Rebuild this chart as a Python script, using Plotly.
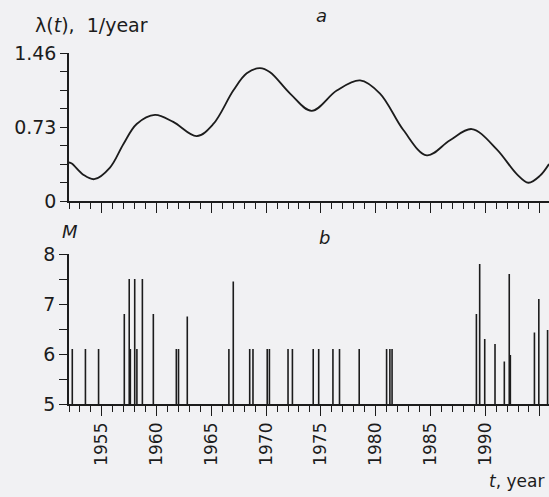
import plotly.graph_objects as go

# ---- data ----
# panel a: intensity lambda(t), 1/year
lam_years = [1952.0, 1952.25, 1953.3, 1954.3, 1955.74, 1956.96, 1958.18, 1959.85, 1961.52,
             1963.66, 1965.18, 1967.0, 1968.23, 1969.44, 1970.36, 1972.19, 1974.16,
             1976.45, 1978.58, 1980.4, 1982.53, 1984.67, 1986.79, 1988.78, 1991.06,
             1992.89, 1993.95, 1995.01, 1995.83]
lam_values = [0.38, 0.37, 0.26, 0.215, 0.33, 0.56, 0.76, 0.85, 0.78,
              0.64, 0.76, 1.09, 1.26, 1.31, 1.27, 1.06, 0.89,
              1.09, 1.19, 1.06, 0.70, 0.45, 0.60, 0.71, 0.51,
              0.265, 0.18, 0.25, 0.365]

# panel b: earthquake magnitudes M
eq_years = [1952.3, 1953.5, 1954.7, 1957.05, 1957.5, 1957.6, 1958.0, 1958.2, 1958.7,
            1959.7, 1961.8, 1962.0, 1962.8, 1966.6, 1967.0, 1968.5, 1968.8, 1970.1,
            1970.3, 1972.0, 1972.4, 1974.3, 1974.8, 1976.1, 1976.7, 1978.5, 1981.0,
            1981.3, 1981.5, 1989.2, 1989.5, 1989.96, 1990.9, 1991.75, 1992.2, 1992.3,
            1994.5, 1994.9, 1995.7]
eq_mags = [6.1, 6.1, 6.1, 6.8, 7.5, 6.1, 7.5, 6.1, 7.5,
           6.8, 6.1, 6.1, 6.75, 6.1, 7.45, 6.1, 6.1, 6.1,
           6.1, 6.1, 6.1, 6.1, 6.1, 6.1, 6.1, 6.1, 6.1,
           6.1, 6.1, 6.8, 7.8, 6.3, 6.2, 5.85, 7.6, 5.98,
           6.43, 7.1, 6.48]

x_major_ticks = [1955, 1960, 1965, 1970, 1975, 1980, 1985, 1990, 1995]
lam_ticks = [0, 0.73, 1.46]
lam_ticktext = ["0", "0.73", "1.46"]
lam_minor = [0.1825, 0.365, 0.5475, 0.9125, 1.095, 1.2775]
m_ticks = [5, 6, 7, 8]
m_minor = [5.5, 6.5, 7.5]

W, H = 549, 497
INK = "#1c1c1c"
BG = "#f1f1f3"
FONT = "DejaVu Sans"

# build stick segments for panel b
sx, sy = [], []
for t, m in zip(eq_years, eq_mags):
    sx += [t, t, None]
    sy += [5, m, None]

fig = go.Figure()
fig.add_trace(go.Scatter(x=lam_years, y=lam_values, mode="lines",
                         line=dict(color=INK, width=1.8, shape="spline", smoothing=1.0),
                         xaxis="x", yaxis="y", showlegend=False, hoverinfo="skip"))
fig.add_trace(go.Scatter(x=sx, y=sy, mode="lines", connectgaps=False,
                         line=dict(color=INK, width=1.6),
                         xaxis="x2", yaxis="y2", showlegend=False, hoverinfo="skip"))

x0 = 69 / W
xr = [1952, 1995.83]

def py(p):
    return 1 - p / H

common_x = dict(range=xr, domain=[x0, 1], showgrid=False, zeroline=False,
                showline=True, linecolor=INK, linewidth=1.5,
                tickmode="array", tickvals=x_major_ticks, ticks="outside",
                ticklen=10, tickwidth=1.3, tickcolor=INK,
                minor=dict(ticks="outside", ticklen=6, tickwidth=1.2, tickcolor=INK,
                           dtick=1, tick0=1952, showgrid=False),
                automargin=False, fixedrange=True)

fig.update_layout(
    width=W, height=H,
    margin=dict(l=0, r=0, t=0, b=0),
    paper_bgcolor=BG, plot_bgcolor=BG,
    font=dict(family=FONT, color=INK, size=18),
    xaxis=dict(**common_x, anchor="y", showticklabels=False),
    yaxis=dict(domain=[py(201), py(53)], range=[0, 1.46], anchor="x",
               showgrid=False, zeroline=False, showline=True, linecolor=INK, linewidth=1.5,
               tickmode="array", tickvals=lam_ticks, ticktext=lam_ticktext,
               ticks="outside", ticklen=7, tickwidth=1.3, tickcolor=INK,
               tickfont=dict(size=19, family=FONT, color=INK),
               minor=dict(ticks="outside", ticklen=7, tickwidth=1.2, tickcolor=INK,
                          tickvals=lam_minor, showgrid=False),
               automargin=False, fixedrange=True),
    xaxis2=dict(**common_x, anchor="y2", showticklabels=True, tickangle=-90,
                tickfont=dict(size=17, family=FONT, color=INK)),
    yaxis2=dict(domain=[py(404), py(254)], range=[5, 8], anchor="x2",
                showgrid=False, zeroline=False, showline=True, linecolor=INK, linewidth=1.5,
                tickmode="array", tickvals=m_ticks,
                ticks="outside", ticklen=8, tickwidth=1.3, tickcolor=INK,
                tickfont=dict(size=19, family=FONT, color=INK),
                minor=dict(ticks="outside", ticklen=8, tickwidth=1.2, tickcolor=INK,
                           tickvals=m_minor, showgrid=False),
                automargin=False, fixedrange=True),
)

ann = [
    dict(text="λ(<i>t</i>),  1/year", x=33 / W, y=py(25), xanchor="left", yanchor="middle",
         font=dict(size=19)),
    dict(text="<i>a</i>", x=321 / W, y=py(16), xanchor="center", yanchor="middle",
         font=dict(size=18)),
    dict(text="<i>M</i>", x=70 / W, y=py(232), xanchor="center", yanchor="middle",
         font=dict(size=18)),
    dict(text="<i>b</i>", x=324 / W, y=py(237), xanchor="center", yanchor="middle",
         font=dict(size=18)),
    dict(text="<i>t</i>, year", x=487 / W, y=py(481), xanchor="left", yanchor="middle",
         font=dict(size=17)),
]
for a in ann:
    a.update(xref="paper", yref="paper", showarrow=False)
fig.update_layout(annotations=ann)

fig.write_html("out.html")
